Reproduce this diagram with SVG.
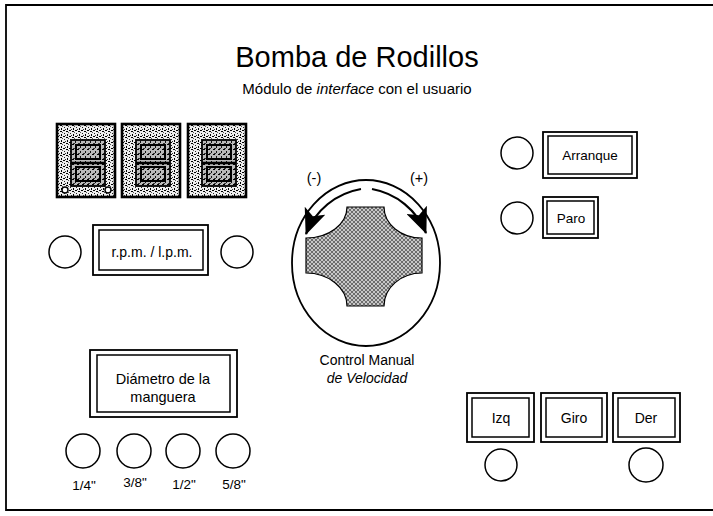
<svg xmlns="http://www.w3.org/2000/svg" width="713" height="516" viewBox="0 0 713 516">
<style>
.t{font-family:"Liberation Sans",Arial,sans-serif;fill:#000;}
.ln{fill:none;stroke:#000;stroke-width:1.8;}
.circ{fill:#fff;stroke:#000;stroke-width:1.5;}
.box{fill:#fff;stroke:#000;stroke-width:1.8;}
.inbox{fill:none;stroke:#000;stroke-width:1.5;}
.seg{fill:url(#noise);stroke:#000;stroke-width:2.6;}
.segin{fill:url(#noise2);stroke:#000;stroke-width:1.8;}
</style>
<defs>
<pattern id="noise" width="6" height="6" patternUnits="userSpaceOnUse">
<rect width="6" height="6" fill="#eee"/>
<rect x="0" y="0" width="2" height="1" fill="#000"/>
<rect x="3" y="1" width="2" height="1" fill="#000"/>
<rect x="1" y="3" width="1" height="1" fill="#222"/>
<rect x="4" y="4" width="1" height="2" fill="#000"/>
<rect x="2" y="5" width="1" height="1" fill="#333"/>
<rect x="5" y="2" width="1" height="1" fill="#555"/>
</pattern>
<pattern id="noise2" width="5" height="5" patternUnits="userSpaceOnUse">
<rect width="5" height="5" fill="#bbb"/>
<rect x="0" y="0" width="2" height="1" fill="#000"/>
<rect x="3" y="2" width="1" height="2" fill="#111"/>
<rect x="1" y="4" width="2" height="1" fill="#333"/>
</pattern>
<pattern id="hatch" width="4" height="4" patternUnits="userSpaceOnUse">
<rect width="4" height="4" fill="#c8c8c8"/>
<path d="M0,0 L4,4 M4,0 L0,4" stroke="#555" stroke-width="0.8"/>
</pattern>
<marker id="ah" markerUnits="userSpaceOnUse" markerWidth="28" markerHeight="22" refX="25" refY="11" orient="auto">
<path d="M0,0 L26,11 L0,22 L6,11 Z" fill="#000"/>
</marker>
<g id="digit">
<rect x="0" y="0" width="58" height="73" class="seg"/>
<rect x="14" y="16" width="34" height="46" class="segin"/>
<line x1="14" y1="39" x2="48" y2="39" stroke="#000" stroke-width="2.4"/>
<rect x="19" y="21" width="24" height="14" fill="none" stroke="#000" stroke-width="2"/>
<rect x="19" y="43" width="24" height="14" fill="none" stroke="#000" stroke-width="2"/>
</g>
</defs>
<rect width="713" height="516" fill="#fff"/>
<g id="frame">
<path d="M713,5 L6,5 L6,510 L713,510" class="ln"/>
</g>
<g id="title">
<text x="357" y="67" text-anchor="middle" class="t" font-size="29">Bomba de Rodillos</text>
<text x="357" y="94" text-anchor="middle" class="t" font-size="15">Módulo de <tspan font-style="italic">interface</tspan> con el usuario</text>
</g>
<g id="display">
<use href="#digit" x="57" y="124"/>
<use href="#digit" x="122" y="124"/>
<use href="#digit" x="188" y="124"/>
<circle cx="65" cy="190" r="3" fill="#fff" stroke="#000" stroke-width="1.4"/>
<circle cx="108" cy="190" r="3" fill="#fff" stroke="#000" stroke-width="1.4"/>
</g>
<g id="rpm">
<circle cx="65" cy="252" r="16" class="circ"/>
<rect x="93" y="225" width="115" height="50" class="box"/>
<rect x="99" y="230" width="104" height="40" class="inbox"/>
<text x="152" y="257" text-anchor="middle" class="t" font-size="14">r.p.m. / l.p.m.</text>
<circle cx="237" cy="252" r="16" class="circ"/>
</g>
<g id="diametro">
<rect x="90" y="350" width="147" height="67" class="box"/>
<rect x="97" y="355" width="133" height="57" class="inbox"/>
<text x="163" y="384" text-anchor="middle" class="t" font-size="14.5">Diámetro de la</text>
<text x="163" y="402" text-anchor="middle" class="t" font-size="14.5">manguera</text>
</g>
<g id="sizes">
<circle cx="83" cy="451" r="17" class="circ"/>
<circle cx="134" cy="451" r="17" class="circ"/>
<circle cx="183" cy="451" r="17" class="circ"/>
<circle cx="233" cy="451" r="17" class="circ"/>
<text x="84" y="490" text-anchor="middle" class="t" font-size="13.5">1/4"</text>
<text x="135" y="487" text-anchor="middle" class="t" font-size="13.5">3/8"</text>
<text x="184" y="489" text-anchor="middle" class="t" font-size="13.5">1/2"</text>
<text x="234" y="489" text-anchor="middle" class="t" font-size="13.5">5/8"</text>
</g>
<g id="knob">
<ellipse cx="366" cy="263" rx="74" ry="83" fill="#fff" stroke="#000" stroke-width="1.8"/>
<path d="M347,207 L384,207 A38,31 0 0 0 422,238 L422,273 A38,33 0 0 0 384,306 L347,306 A41,33 0 0 0 306,273 L306,238 A41,31 0 0 0 347,207 Z" fill="url(#hatch)" stroke="#000" stroke-width="1.2"/>
<text x="314" y="183" text-anchor="middle" class="t" font-size="14.5">(-)</text>
<text x="419" y="183" text-anchor="middle" class="t" font-size="14.5">(+)</text>
<text x="367" y="365" text-anchor="middle" class="t" font-size="14">Control Manual</text>
<text x="367" y="383" text-anchor="middle" class="t" font-size="14" font-style="italic">de Velocidad</text>
</g>
<g id="arranque">
<circle cx="517" cy="153" r="16" class="circ"/>
<rect x="543" y="132" width="94" height="46" class="box"/>
<rect x="548" y="136" width="84" height="38" class="inbox"/>
<text x="590" y="160" text-anchor="middle" class="t" font-size="13.5">Arranque</text>
</g>
<g id="paro">
<circle cx="517" cy="218" r="16" class="circ"/>
<rect x="543" y="197" width="55" height="41" class="box"/>
<rect x="547" y="201" width="47" height="33" class="inbox"/>
<text x="571" y="223" text-anchor="middle" class="t" font-size="13.5">Paro</text>
</g>
<g id="izq">
<rect x="467" y="393" width="67" height="49" class="box"/>
<rect x="472" y="398" width="57" height="39" class="inbox"/>
<text x="501" y="423" text-anchor="middle" class="t" font-size="14">Izq</text>
<circle cx="501" cy="465" r="16" class="circ"/>
</g>
<g id="giro">
<rect x="541" y="393" width="66" height="49" class="box"/>
<rect x="546" y="398" width="56" height="39" class="inbox"/>
<text x="574" y="423" text-anchor="middle" class="t" font-size="14">Giro</text>
</g>
<g id="der">
<rect x="613" y="393" width="67" height="49" class="box"/>
<rect x="618" y="398" width="57" height="39" class="inbox"/>
<text x="646" y="423" text-anchor="middle" class="t" font-size="14">Der</text>
<circle cx="646" cy="465" r="17" class="circ"/>
</g>
<g id="connectors">
<path d="M361,189 A72,72 0 0 0 306,234" fill="none" stroke="#000" stroke-width="2.2" marker-end="url(#ah)"/>
<path d="M372,189 A72,72 0 0 1 426,233" fill="none" stroke="#000" stroke-width="2.2" marker-end="url(#ah)"/>
</g>
</svg>
